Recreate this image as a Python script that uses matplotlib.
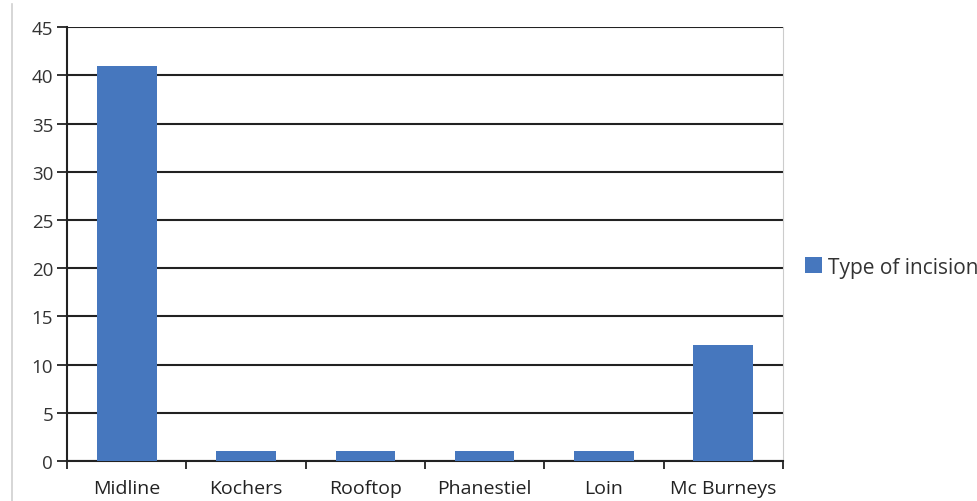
import matplotlib
matplotlib.use('Agg')
import matplotlib.pyplot as plt
import numpy as np

categories = ['Midline', 'Kochers', 'Rooftop', 'Phanestiel', 'Loin', 'Mc Burneys']
counts = [41, 1, 1, 1, 1, 12]
series_name = 'Type of incision'
y_ticks = list(range(0, 50, 5))

plt.rcParams['font.family'] = ['Open Sans', 'DejaVu Sans']

fig = plt.figure(figsize=(9.77, 5.02), dpi=100)
ax = fig.add_axes([0.0686, 0.0797, 0.7328, 0.8643])

x = np.arange(len(categories))
ax.bar(x, counts, width=0.5, color='#4677BE', label=series_name, zorder=3)

ax.set_xlim(-0.5, len(categories) - 0.5)
ax.set_ylim(0, 45)
ax.set_yticks(y_ticks)
ax.set_yticklabels([str(v) for v in y_ticks], fontsize=13.5, color='#333333')
ax.yaxis.grid(True, color='#222222', linewidth=1.5, zorder=1)

# category labels centred, ticks on the category boundaries
ax.set_xticks(x)
ax.set_xticklabels(categories, fontsize=14, color='#222222')
ax.tick_params(axis='x', length=0, pad=13)
ax.set_xticks(np.arange(-0.5, len(categories)), minor=True)
ax.tick_params(axis='x', which='minor', length=6, width=1.3, color='#222222', direction='out')
ax.tick_params(axis='y', length=7, width=1.3, color='#222222', direction='out', pad=3)

for side in ['left', 'bottom']:
    ax.spines[side].set_color('#222222')
    ax.spines[side].set_linewidth(1.5)
ax.spines['top'].set_visible(False)
ax.spines['right'].set_color('#cccccc')

ax.legend(loc='center left', bbox_to_anchor=(1.005, 0.447), frameon=False,
          fontsize=15, handlelength=0.8, handleheight=0.8, handletextpad=0.3,
          labelcolor='#333333')

# faint outer frame lines of the chart area
fig.add_artist(plt.Line2D([0.0123, 0.0123], [0.0, 0.99], color='#d0d0d0', linewidth=1.2))

plt.savefig('out.png', dpi=100)
